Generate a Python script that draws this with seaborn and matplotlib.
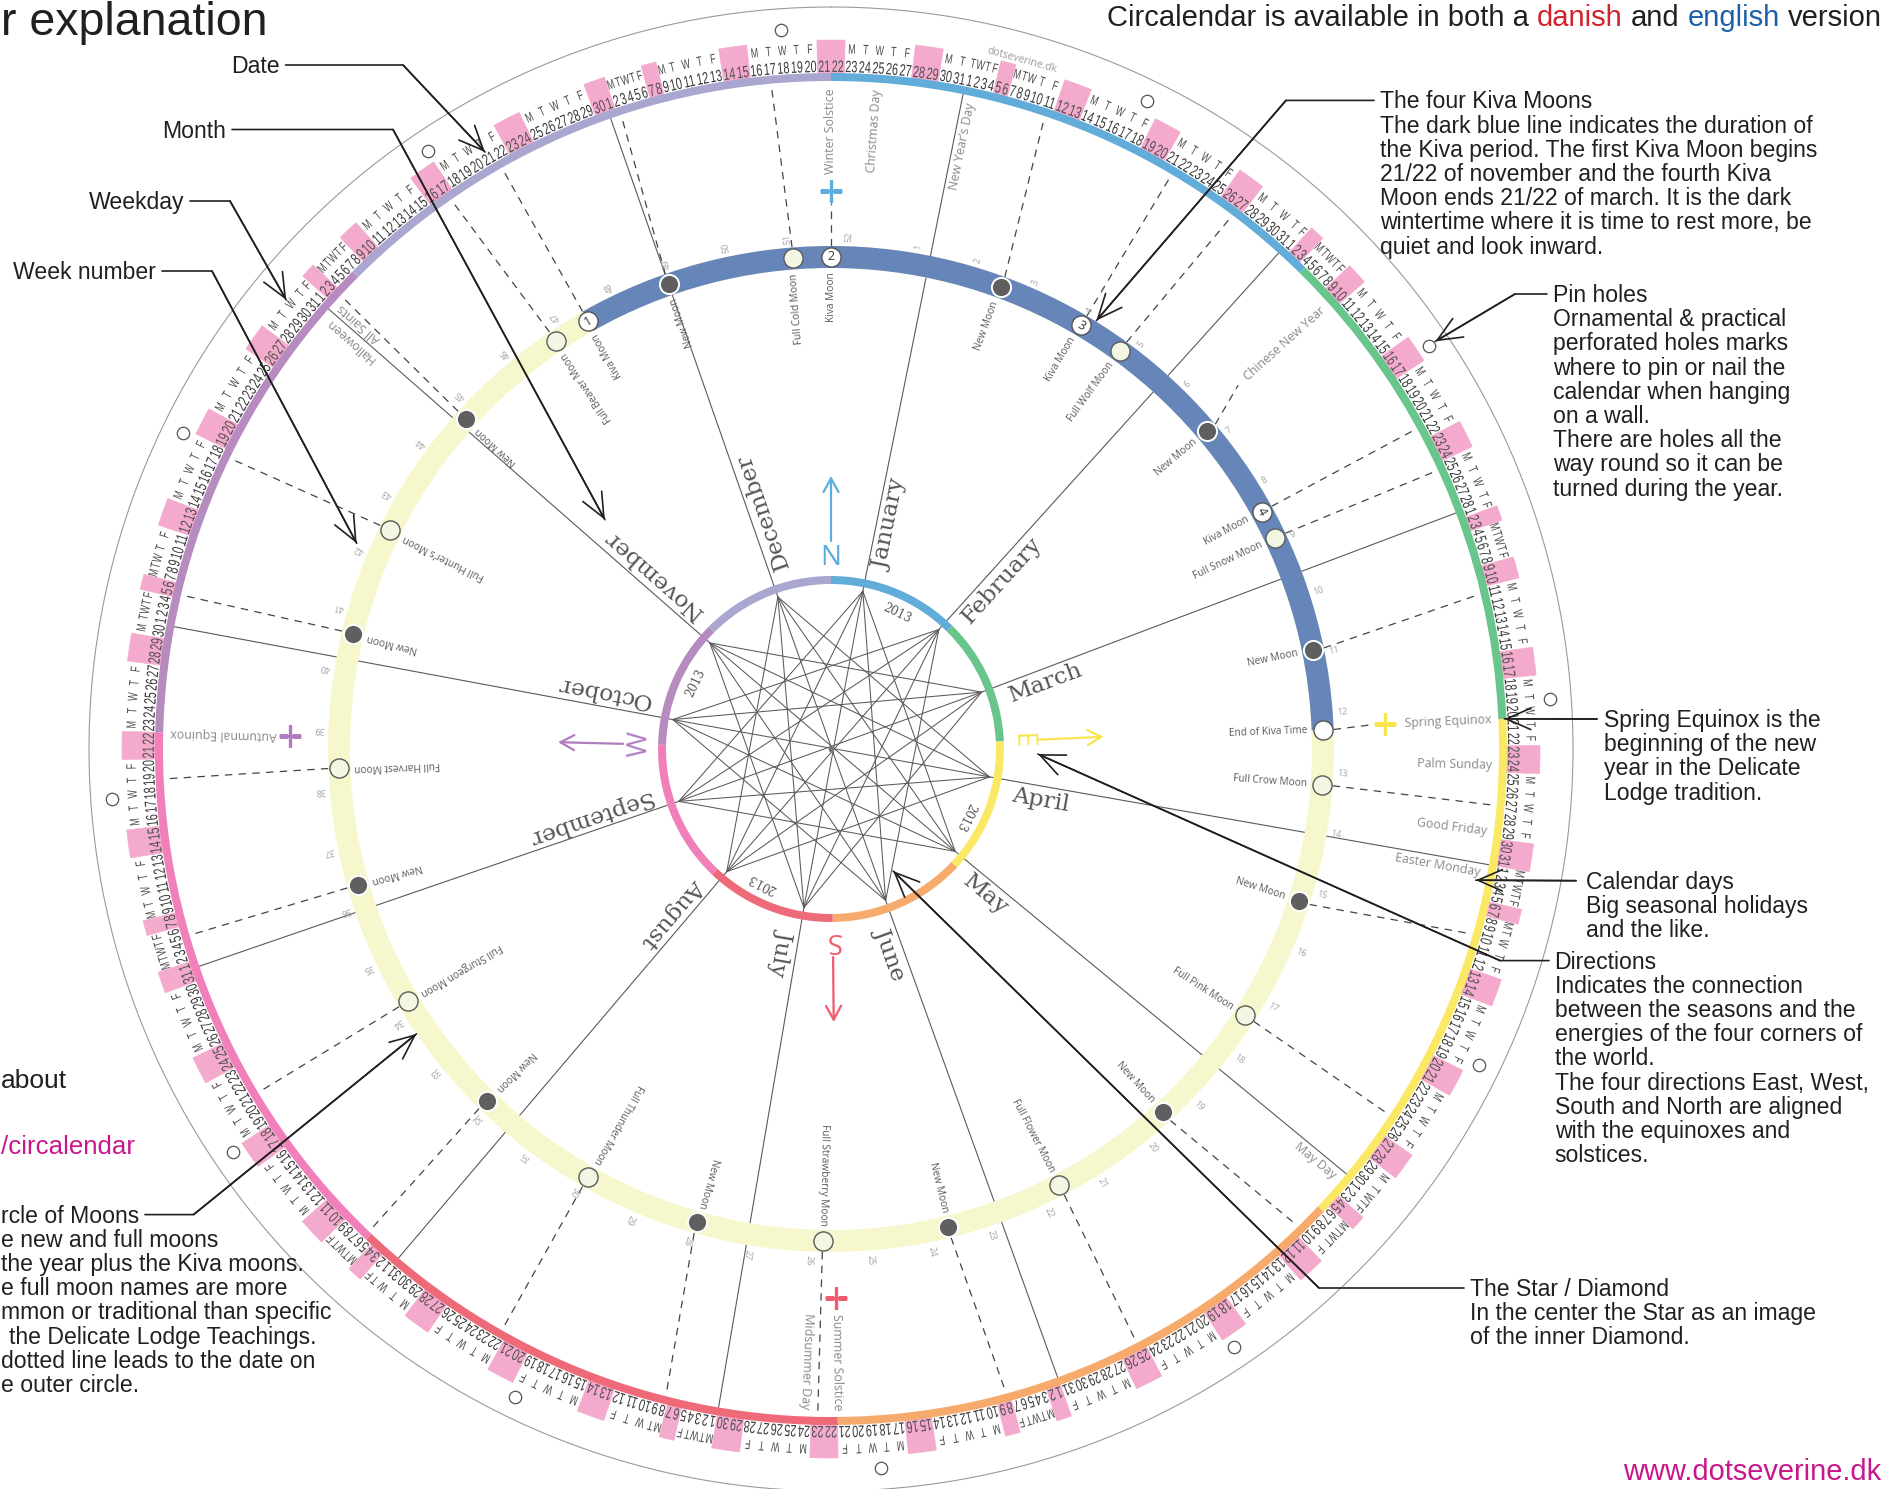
#!/usr/bin/env python3

""" Circalendar explanation sheet: the year wheel with its notes round it
"""

import numpy as np
import pandas as pd
import seaborn as sns
import matplotlib.pyplot as plt
from matplotlib import font_manager as fm
from matplotlib.textpath import TextPath
from matplotlib.patches import PathPatch
from matplotlib.transforms import Affine2D

#########################################################
### Data ###
#########################################################

# seasons of the wheel (colour changes on the rings)
season_starts = ['2013-12-22', '2013-02-05', '2013-03-21', '2013-05-07',
                 '2013-06-22', '2013-08-06', '2013-09-23', '2013-11-07']
season_colors = ['#62acd9', '#68c58b', '#fbe965', '#f6aa6b',
                 '#ef6a78', '#f07fba', '#b68bbf', '#a9a6d0']

month_names = ['January', 'February', 'March', 'April', 'May', 'June', 'July',
               'August', 'September', 'October', 'November', 'December']

# moons of 2013 on the inner ring
moon_dates = ['2013-01-11', '2013-01-22', '2013-01-27', '2013-02-10', '2013-02-22',
              '2013-02-25', '2013-03-11', '2013-03-21', '2013-03-27', '2013-04-10',
              '2013-04-25', '2013-05-10', '2013-05-25', '2013-06-08', '2013-06-23',
              '2013-07-08', '2013-07-22', '2013-08-06', '2013-08-21', '2013-09-05',
              '2013-09-19', '2013-10-05', '2013-10-18', '2013-11-03', '2013-11-17',
              '2013-11-22', '2013-12-02', '2013-12-17', '2013-12-22']
moon_kinds = ['new', 'kiva', 'full', 'new', 'kiva', 'full', 'new', 'end', 'full', 'new',
              'full', 'new', 'full', 'new', 'full', 'new', 'full', 'new', 'full', 'new',
              'full', 'new', 'full', 'new', 'full', 'kiva', 'new', 'full', 'kiva']
moon_labels = ['New Moon', 'Kiva Moon', 'Full Wolf Moon', 'New Moon', 'Kiva Moon',
               'Full Snow Moon', 'New Moon', 'End of Kiva Time', 'Full Crow Moon', 'New Moon',
               'Full Pink Moon', 'New Moon', 'Full Flower Moon', 'New Moon', 'Full Strawberry Moon',
               'New Moon', 'Full Thunder Moon', 'New Moon', 'Full Sturgeon Moon', 'New Moon',
               'Full Harvest Moon', 'New Moon', 'Full Hunter\u2019s Moon', 'New Moon', 'Full Beaver Moon',
               'Kiva Moon', 'New Moon', 'Full Cold Moon', 'Kiva Moon']
kiva_numbers = [0, 3, 0, 0, 4, 0, 0, 0, 0, 0, 0, 0, 0, 0, 0,
                0, 0, 0, 0, 0, 0, 0, 0, 0, 0, 1, 0, 0, 2]
# moons whose dotted line stops at a holiday sign instead of the date ring
short_lead_dates = ['2013-02-10', '2013-03-21', '2013-12-22']

# holidays written along the date ring
holiday_dates = ['2013-12-25', '2013-01-01', '2013-02-10', '2013-03-21', '2013-03-24',
                 '2013-03-29', '2013-04-01', '2013-05-01', '2013-06-24', '2013-06-22',
                 '2013-09-23', '2013-10-31', '2013-11-01', '2013-12-22']
holiday_labels = ['Christmas Day', 'New Year\u2019s Day', 'Chinese New Year', 'Spring Equinox',
                  'Palm Sunday', 'Good Friday', 'Easter Monday', 'May Day', 'Midsummer Day',
                  'Summer Solstice', 'Autumnal Equinox', 'Halloween', 'All Saints', 'Winter Solstice']

# solstices / equinoxes and the four directions
cardinal_dates = ['2013-12-22', '2013-03-21', '2013-06-22', '2013-09-23']
cardinal_letters = ['N', 'E', 'S', 'W']
cardinal_colors = ['#5aaddc', '#f8e54e', '#ef5b6e', '#b07cc0']
cross_radius = [558, 555, 549, 541]

pinhole_angles = [26, 56, 86, 116, 146, 176, 206, 236, 266, 296, 326, 356]
year_label_angles = [26, 116.7, 207, 296]

#########################################################
### Styles and geometry ###
#########################################################

sns.set_theme(style='white')
plt.rcParams['font.family'] = ['Liberation Sans', 'DejaVu Sans']
HUMAN = ['Open Sans', 'DejaVu Sans']
GLYPH_FONT = fm.FontProperties(family=['Liberation Sans', 'DejaVu Sans'])

W, H = 1897, 1489
CX, CY = 831, 749
RMAX = 760
INK = '#231f20'
PINK = '#f4aacd'

# date ring: every day takes the room its number needs
ring_days = pd.date_range('2013-12-22', '2013-12-31').append(pd.date_range('2013-01-01', '2013-12-21'))
day_w = np.where(ring_days.day < 10, 0.62, 1.14)
day_w = day_w * 360.0 / day_w.sum()
day_start = np.cumsum(day_w) - day_w
day_mid = day_start + day_w / 2
start_of = dict(zip(ring_days, day_start))
mid_of = dict(zip(ring_days, day_mid))

def lay_start(d):
    return start_of[pd.Timestamp(d)]

def lay_mid(d):
    return mid_of[pd.Timestamp(d)]

def moon_deg(d, half=True):
    idx = (pd.Timestamp(d) - pd.Timestamp('2013-12-22')).days % 365
    return (idx + 0.5 * half) * 360.0 / 365

def rad(deg):
    return np.deg2rad(deg)

def xy(th, r):
    return r * np.sin(rad(th)), r * np.cos(rad(th))

def to_px(th, r):
    x, y = xy(th, r)
    return CX + x, CY - y

#########################################################
### Wheel ###
#########################################################

fig = plt.figure(figsize=(W / 100, H / 100), dpi=100)
fig.patch.set_facecolor('white')
ax = fig.add_axes([(CX - RMAX) / W, (H - CY - RMAX) / H, 2 * RMAX / W, 2 * RMAX / H],
                  projection='polar')
ax.set_theta_zero_location('N')
ax.set_theta_direction(-1)
ax.set_axis_off()
ax.patch.set_alpha(0)

# flat axes in pixels round the centre, for the narrow date glyphs
cart = fig.add_axes([0, 0, 1, 1])
cart.set_xlim(-CX, W - CX)
cart.set_ylim(-(H - CY), CY)
cart.set_axis_off()
cart.patch.set_alpha(0)
cart.set_zorder(2)

def seg(th1, r1, th2, r2, **kw):
    x1, y1 = xy(th1, r1)
    x2, y2 = xy(th2, r2)
    xs = np.array([x1, x2])
    ys = np.array([y1, y2])
    ax.plot(np.arctan2(xs, ys), np.hypot(xs, ys), **kw)

def par_text(th, r, s, off, va, **kw):
    # text running outward along the ray th, shifted sideways (positive = clockwise)
    x = r * np.sin(rad(th)) + off * np.cos(rad(th))
    y = r * np.cos(rad(th)) - off * np.sin(rad(th))
    ax.text(np.arctan2(x, y), np.hypot(x, y), s, rotation=90 - th,
            rotation_mode='anchor', va=va, **kw)

def narrow_glyphs(s, th, r, size, squeeze, color):
    tp = TextPath((0, 0), s, size=size, prop=GLYPH_FONT)
    ext = tp.get_extents()
    x, y = xy(th, r)
    tr = (Affine2D().translate(-(ext.x0 + ext.x1) / 2, -0.358 * size)
          .scale(squeeze, 1).rotate_deg(-th).translate(x, y))
    cart.add_patch(PathPatch(tr.transform_path(tp), facecolor=color, linewidth=0))

# outer thin circle
ring_t = np.linspace(0, 2 * np.pi, 720)
ax.plot(ring_t, np.full_like(ring_t, 742), color='#9a9a9a', lw=0.8)

# month lines and the star
month_start = [lay_start('2013-%02d-01' % m) for m in range(1, 13)]
for th in month_start:
    seg(th, 161, th, 668, color='#5a5a5a', lw=0.8, zorder=1)
for i in range(12):
    for step in (4, 5, 6):
        if step == 6 and i >= 6:
            continue
        j = (i + step) % 12
        seg(month_start[i], 161, month_start[j], 161, color='#5a5a5a', lw=0.75, zorder=1)
ax.scatter([0], [0], s=10, color='#777777', zorder=2)

# coloured rings (outer date ring and inner star ring)
for k in range(8):
    a0 = lay_start(season_starts[k])
    a1 = lay_start(season_starts[(k + 1) % 8])
    width = (a1 - a0) % 360
    for bottom, height in ((668, 8), (165, 8)):
        ax.bar(rad(a0 + width / 2), height, width=rad(width), bottom=bottom,
               color=season_colors[k], linewidth=0, zorder=3)

# weekend boxes, dates and weekdays
for d, mid, w in zip(ring_days, day_mid, day_w):
    weekend = d.weekday() >= 5
    if weekend:
        ax.bar(rad(mid), 34, width=rad(w), bottom=675, color=PINK,
               edgecolor=PINK, linewidth=0.4, zorder=2)
    narrow_glyphs(str(d.day), mid, 683, 16.5, 0.66, '#505050' if weekend else '#3a3a3a')
    if not weekend:
        narrow_glyphs('MTWTF'[d.weekday()], mid, 700.5, 13.5, 0.66, '#4a4a4a')

ax.text(rad(15.5), 715, 'dotseverine.dk', rotation=-15.5, rotation_mode='anchor',
        ha='center', va='center', fontsize=7.5, color='#9a9a9a', family=HUMAN)

# pin holes
pins = pd.DataFrame({'theta': rad(np.array(pinhole_angles)), 'r': 721})
sns.scatterplot(data=pins, x='theta', y='r', ax=ax, s=80, color='white',
                edgecolor='#555555', linewidth=0.9, zorder=5, legend=False)

# moon ring
ax.bar(0, 22, width=2 * np.pi, bottom=481, color='#f7f7cd', linewidth=0, zorder=2)
k0 = moon_deg('2013-11-22', False)
k1 = moon_deg('2013-03-21', False)
kw_ = (k1 - k0) % 360
ax.bar(rad(k0 + kw_ / 2), 22, width=rad(kw_), bottom=481, color='#6686b9', linewidth=0, zorder=2)

moons = pd.DataFrame({'date': moon_dates, 'kind': moon_kinds, 'label': moon_labels,
                      'kiva': kiva_numbers})
moons['deg'] = [moon_deg(d, k in ('new', 'full')) for d, k in zip(moons.date, moons.kind)]
moons['theta'] = rad(moons.deg)
moons['r'] = 492

# dotted leads from the moons to their dates
for d, k, th in zip(moons.date, moons.kind, moons.deg):
    target = lay_mid(d) if k in ('new', 'full') else lay_start(d)
    r_end = 546 if d in short_lead_dates else 664
    if d == '2013-03-21':
        r_end = 541
    seg(th, 503, target, r_end, color='#444444', lw=0.9, ls=(0, (6, 5)), zorder=1)

style = {'new': ('#5f5f5f', 'white', 1.4), 'full': ('#f3f6e2', '#5a5a5a', 1.0),
         'kiva': ('white', '#555555', 1.0), 'end': ('white', '#555555', 1.0)}
for kind, (fc, ec, lw) in style.items():
    sub = moons[moons.kind == kind]
    sns.scatterplot(data=sub, x='theta', y='r', ax=ax, s=190, color=fc,
                    edgecolor=ec, linewidth=lw, zorder=5, legend=False)

for _, m in moons.iterrows():
    ax.text(m.theta, 477, m.label, rotation=90 - m.deg, rotation_mode='anchor',
            ha='right', va='center', fontsize=7.3, color='#5a5a5a', family=HUMAN, zorder=6)
    if m.kiva:
        ax.text(m.theta, 492, str(m.kiva), rotation=-m.deg, rotation_mode='anchor',
                ha='center', va='center', fontsize=9, color='#333333', zorder=6, family=HUMAN)

# week numbers
week_mondays = pd.date_range('2012-12-31', periods=52, freq='7D')
for n, d in enumerate(week_mondays, start=1):
    th = moon_deg(d, False) + 1.0
    ax.text(rad(th), 507, str(n), rotation=90 - th, rotation_mode='anchor',
            ha='left', va='center', fontsize=6.6, color='#a5a5a5', family=HUMAN)

# holidays
for d, lab in zip(holiday_dates, holiday_labels):
    ts = pd.Timestamp(d)
    kw = dict(ha='right', fontsize=8.9, color='#8a8a8a', family=HUMAN, zorder=4)
    if 'Solstice' in lab or 'Equinox' in lab:
        par_text(lay_start(d), 661, lab, 0, 'center', **kw)
    elif ts.day == 1:
        par_text(lay_start(d), 661, lab, 3, 'top', **kw)
    elif (ts + pd.Timedelta(days=1)).day == 1:
        par_text(lay_start(ts + pd.Timedelta(days=1)), 661, lab, -3, 'bottom', **kw)
    else:
        par_text(lay_mid(d), 661, lab, 0, 'center', **kw)

# equinox / solstice crosses, directions
for d, letter, c, rc in zip(cardinal_dates, cardinal_letters, cardinal_colors, cross_radius):
    th = lay_start(d)
    sns.scatterplot(x=[rad(th)], y=[rc], ax=ax, marker='+', s=230, color=c,
                    linewidth=2.4, zorder=5, legend=False)
    ax.text(rad(th), 191, letter, rotation=-th, rotation_mode='anchor', ha='center',
            va='center', fontsize=20, color=c, family=HUMAN, zorder=6)
    ax.annotate('', xy=(rad(th), 273), xytext=(rad(th), 208),
                arrowprops=dict(arrowstyle='->,head_length=0.55,head_width=0.3', color=c,
                                lw=1.6, mutation_scale=18, shrinkA=0, shrinkB=0))

# month names
for th, name in zip(month_start, month_names):
    par_text(th, 186, name, 3, 'top', ha='left', fontsize=16.8, color='#555555',
             family='DejaVu Serif', zorder=4)

for th in year_label_angles:
    ax.text(rad(th), 151, '2013', rotation=-th, rotation_mode='anchor', ha='center',
            va='center', fontsize=8.5, color='#555555', family='DejaVu Serif')

ax.set_thetalim(0, 2 * np.pi)
ax.set_ylim(0, RMAX)

#########################################################
### Notes round the wheel ###
#########################################################

ov = fig.add_axes([0, 0, 1, 1])
ov.set_zorder(3)
ov.set_xlim(0, W)
ov.set_ylim(H, 0)
ov.set_axis_off()
ov.patch.set_alpha(0)

NOTE = 16.6
LINE = 24.2

def block(x, y, lines, ha='left', size=NOTE, color=INK):
    for i, s in enumerate(lines):
        ov.text(x, y + 8 + i * LINE, s, ha=ha, va='baseline', fontsize=size, color=color)

def leader(points, tip_polar):
    tip = to_px(*tip_polar)
    pts = points + [tip]
    ov.plot([p[0] for p in pts], [p[1] for p in pts], color=INK, lw=1.2)
    ov.annotate('', xy=tip, xytext=pts[-2],
                arrowprops=dict(arrowstyle='->,head_length=0.8,head_width=0.35', color=INK,
                                lw=1.2, mutation_scale=22, shrinkA=0, shrinkB=0))

# left side
block(279.5, 65, ['Date'], ha='right')
leader([(285.5, 65), (403, 65)], (lay_mid('2013-11-21'), 690))
block(226, 129.5, ['Month'], ha='right')
leader([(232, 129.5), (393, 129.5)], (315.4, 322))
block(184, 201, ['Weekday'], ha='right')
leader([(190, 201), (230, 201)], (lay_mid('2013-10-30'), 706))
block(156, 271, ['Week number'], ha='right')
leader([(162, 271), (212, 271)], (moon_deg('2013-10-14', False) + 1.5, 517))

ov.text(66.5, 1088.5, 'about', ha='right', va='baseline', fontsize=19, color=INK)
ov.text(1, 1154, '/circalendar', ha='left', va='baseline', fontsize=18.6, color='#c8168c')

moon_lines = ['rcle of Moons', 'e new and full moons', 'the year plus the Kiva moons.',
              'e full moon names are more', 'mmon or traditional than specific',
              'the Delicate Lodge Teachings.', 'dotted line leads to the date on',
              'e outer circle.']
for i, s in enumerate(moon_lines):
    ov.text(9 if s.startswith('the Del') else 1, 1214.6 + 8 + i * LINE, s,
            ha='left', va='baseline', fontsize=NOTE, color=INK)
leader([(145, 1214.6), (193.6, 1214.6)], (235.5, 503))

# right side
block(1380, 100.4, ['The four Kiva Moons', 'The dark blue line indicates the duration of',
                    'the Kiva period. The first Kiva Moon begins',
                    '21/22 of november and the fourth Kiva',
                    'Moon ends 21/22 of march. It is the dark',
                    'wintertime where it is time to rest more, be', 'quiet and look inward.'])
leader([(1374, 100.4), (1286, 100.4)], (moon_deg('2013-01-22', False) + 1.2, 504))

block(1553, 294, ['Pin holes', 'Ornamental & practical', 'perforated holes marks',
                  'where to pin or nail the', 'calendar when hanging', 'on a wall.',
                  'There are holes all the', 'way round so it can be', 'turned during the year.'])
leader([(1547, 294), (1515, 294)], (56, 729))

block(1604, 719, ['Spring Equinox is the', 'beginning of the new', 'year in the Delicate',
                  'Lodge tradition.'])
leader([(1597, 719)], (lay_start('2013-03-21'), 674))

block(1586, 880.7, ['Calendar days', 'Big seasonal holidays', 'and the like.'])
leader([(1576, 880.7)], (101.5, 658))

block(1554.6, 960.6, ['Directions', 'Indicates the connection', 'between the seasons and the',
                      'energies of the four corners of', 'the world.',
                      'The four directions East, West,', 'South and North are aligned',
                      'with the equinoxes and', 'solstices.'])
leader([(1549, 960.6), (1500, 960.6)], (91.4, 207))

block(1470, 1288, ['The Star / Diamond', 'In the center the Star as an image',
                   'of the inner Diamond.'])
leader([(1464, 1288), (1319, 1288)], (153, 137))

ov.text(1881, 1480, 'www.dotseverine.dk', ha='right', va='baseline', fontsize=20.9,
        color='#c8168c')

# title and header
ov.text(1, 35, 'r explanation', ha='left', va='baseline', fontsize=33.5, color=INK)

renderer = fig.canvas.get_renderer()

def width_of(s, size):
    t = ov.text(0, 0, s, fontsize=size)
    w = t.get_window_extent(renderer).width
    t.remove()
    return w

head_size = 21
space = width_of('a a', head_size) - width_of('aa', head_size)
pieces = [('Circalendar is available in both a', INK), ('danish', '#d2232a'), ('and', INK),
          ('english', '#1b5faa'), ('version', INK)]
x = 1107
for s, c in pieces:
    t = ov.text(x, 26.5, s, ha='left', va='baseline', fontsize=head_size, color=c)
    x += t.get_window_extent(renderer).width + space

fig.savefig('out.png', dpi=100, facecolor='white')
